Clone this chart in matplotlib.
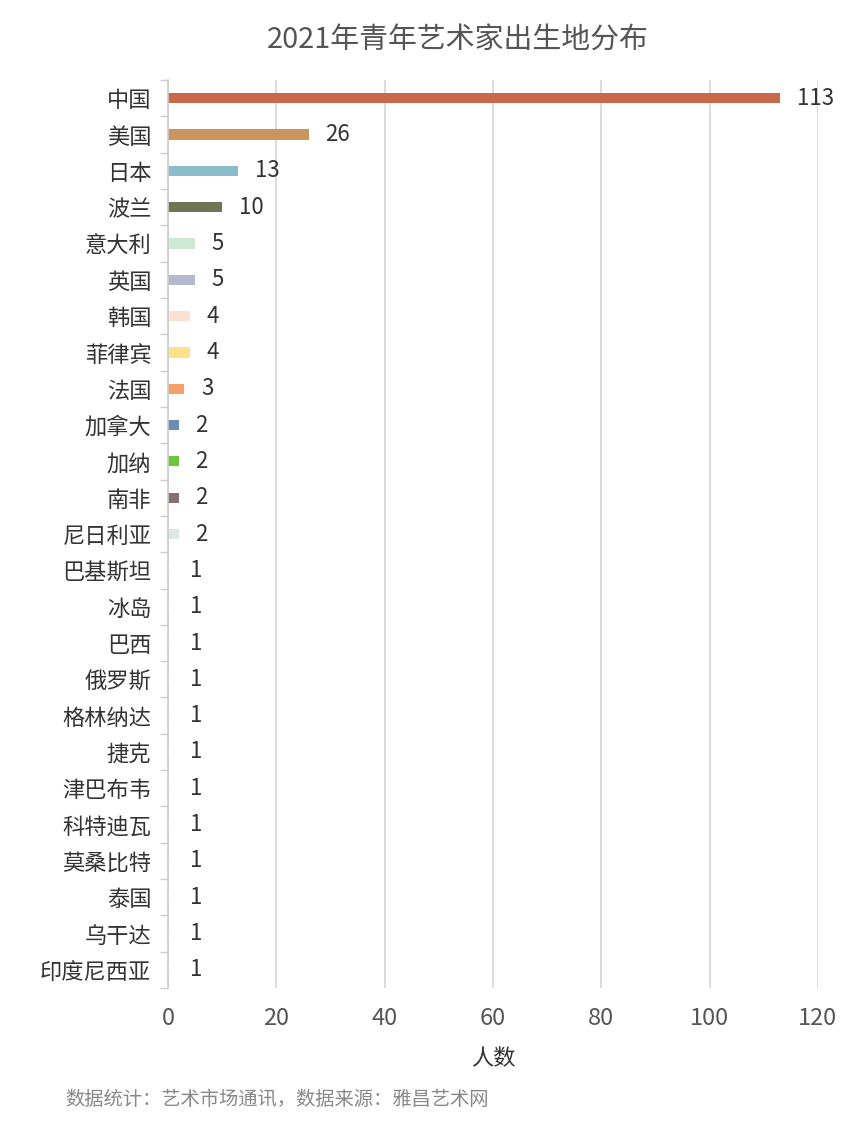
import numpy as np
import matplotlib.pyplot as plt
from matplotlib.ticker import FixedLocator

plt.rcParams['font.family'] = ['Noto Sans CJK SC', 'DejaVu Sans']

countries = ['中国', '美国', '日本', '波兰', '意大利', '英国', '韩国', '菲律宾', '法国',
             '加拿大', '加纳', '南非', '尼日利亚', '巴基斯坦', '冰岛', '巴西', '俄罗斯',
             '格林纳达', '捷克', '津巴布韦', '科特迪瓦', '莫桑比特', '泰国', '乌干达', '印度尼西亚']
counts = [113, 26, 13, 10, 5, 5, 4, 4, 3, 2, 2, 2, 2, 1, 1, 1, 1, 1, 1, 1, 1, 1, 1, 1, 1]
bar_colors = ['#c8694a', '#c9955c', '#8bbccc', '#6e7552', '#cde8d5', '#b5b9d0', '#fde0d2',
              '#fde08a', '#f5a06a', '#6a8db3', '#6cc63c', '#8a706a', '#dde8e6'] + ['#ffffff'] * 12
x_ticks = [0, 20, 40, 60, 80, 100, 120]

fig = plt.figure(figsize=(8.54, 11.21), dpi=100)
ax = fig.add_axes([0.1967, 0.1186, 0.761, 0.81])

y = np.arange(len(countries))
ax.barh(y, counts, height=0.28, color=bar_colors, zorder=2)

# value labels to the right of each bar
for yi, v in zip(y, counts):
    ax.annotate(str(v), xy=(v, yi), xytext=(12, 0), textcoords='offset points',
                va='center', ha='left', fontsize=16, color='#333333')

ax.set_ylim(len(countries) - 0.5, -0.5)
ax.set_xlim(0, 120)
ax.set_yticks(y)
ax.set_yticklabels(countries, fontsize=16, color='#333333')
ax.yaxis.set_minor_locator(FixedLocator(np.arange(-0.5, len(countries), 1)))
ax.tick_params(axis='y', which='major', length=0, pad=12)
ax.tick_params(axis='y', which='minor', length=6, color='#cccccc', width=1)

ax.set_xticks(x_ticks)
ax.tick_params(axis='x', length=0, labelsize=17, labelcolor='#555555', pad=14)
ax.grid(axis='x', color='#d6d6d6', linewidth=1.2, zorder=0)

for s in ['top', 'right', 'bottom']:
    ax.spines[s].set_visible(False)
ax.spines['left'].set_color('#cccccc')
ax.spines['left'].set_linewidth(1.2)

ax.set_xlabel('人数', fontsize=16, color='#333333', labelpad=12)
fig.text(0.536, 0.964, '2021年青年艺术家出生地分布', ha='center', va='center',
         fontsize=20.8, color='#555555')
fig.text(0.076, 0.019, '数据统计：艺术市场通讯，数据来源：雅昌艺术网', ha='left', va='center',
         fontsize=13.9, color='#888888')

fig.savefig('out.png', dpi=100)
